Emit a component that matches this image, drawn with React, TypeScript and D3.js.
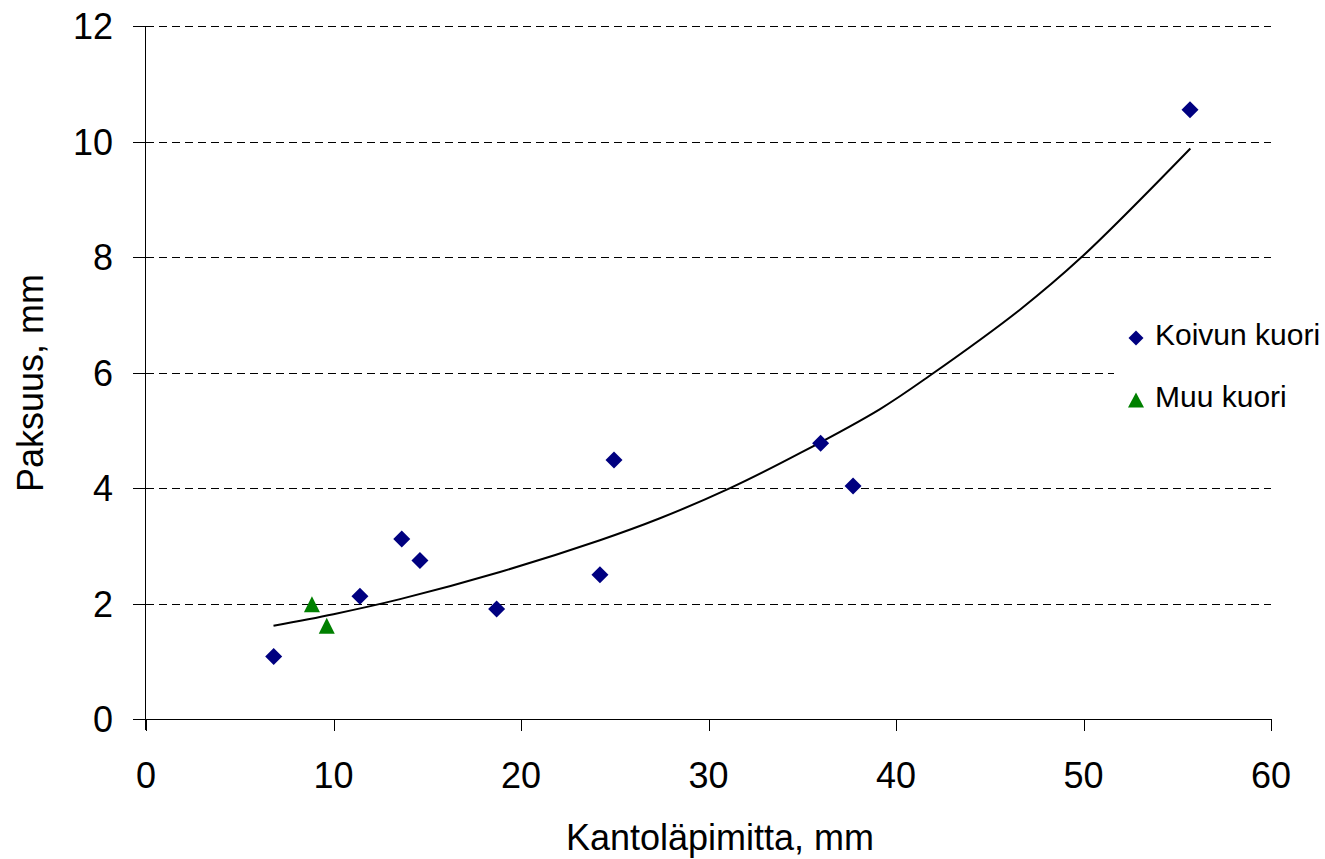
import React from "react";
import * as d3 from "d3";

const koivunX = [6.81, 11.41, 13.64, 14.61, 18.7, 24.21, 24.96, 35.98, 37.71, 55.68];
const koivunY = [1.085, 2.13, 3.12, 2.75, 1.91, 2.5, 4.49, 4.78, 4.04, 10.55];
const muuX = [8.85, 9.64];
const muuY = [1.99, 1.62];
const trendX = [6.8, 10, 13.55, 18.88, 24.21, 27.41, 31.15, 34.9, 39.15, 41.81, 46.61, 49.9, 55.7];
const trendY = [1.62, 1.82, 2.08, 2.55, 3.1, 3.48, 4.0, 4.61, 5.37, 5.95, 7.09, 8.0, 9.88];
const xTicks = [0, 10, 20, 30, 40, 50, 60];
const yTicks = [0, 2, 4, 6, 8, 10, 12];
const legendLabels = ["Koivun kuori", "Muu kuori"];

const W = 1325;
const H = 859;
const FONT = "Liberation Sans, Arial, sans-serif";

export default function App() {
  const x = d3.scaleLinear().domain([0, 60]).range([146, 1271]);
  const y = d3.scaleLinear().domain([0, 12]).range([719.3, 26]);
  const trendPts: [number, number][] = trendX.map((v, i) => [x(v), y(trendY[i])]);
  const line = d3.line().curve(d3.curveCatmullRom.alpha(0.5))(trendPts) || "";
  const diamond = (cx: number, cy: number, r = 8.5) =>
    `M${cx},${cy - r}L${cx + r},${cy}L${cx},${cy + r}L${cx - r},${cy}Z`;
  const tri = (cx: number, cy: number, w = 16, h = 16) =>
    `M${cx},${cy - h / 2}L${cx + w / 2},${cy + h / 2}L${cx - w / 2},${cy + h / 2}Z`;

  return (
    <svg
      width={W}
      height={H}
      style={{ position: "absolute", left: 0, top: 0, background: "#fff" }}
      fontFamily={FONT}
    >
      <rect x={0} y={0} width={W} height={H} fill="#fff" />
      {yTicks.filter((t) => t > 0).map((t) => (
        <line
          key={"g" + t}
          x1={146}
          x2={1271}
          y1={Math.round(y(t)) + 0.5}
          y2={Math.round(y(t)) + 0.5}
          stroke="#000"
          strokeWidth={1}
          strokeDasharray="8,5"
        />
      ))}
      <rect x={1114} y={300} width={211} height={140} fill="#fff" />
      <line x1={145.5} x2={145.5} y1={26} y2={730} stroke="#000" strokeWidth={1} />
      <line x1={133} x2={1271} y1={719.5} y2={719.5} stroke="#000" strokeWidth={1} />
      {yTicks.map((t) => (
        <g key={"yt" + t}>
          <line x1={133} x2={146} y1={Math.round(y(t)) + 0.5} y2={Math.round(y(t)) + 0.5} stroke="#000" />
          <text x={113} y={y(t)} dy="0.36em" textAnchor="end" fontSize={36} fill="#000">
            {t}
          </text>
        </g>
      ))}
      {xTicks.map((t) => (
        <g key={"xt" + t}>
          <line x1={Math.round(x(t)) + 0.5} x2={Math.round(x(t)) + 0.5} y1={719} y2={731} stroke="#000" />
          <text x={x(t)} y={788} textAnchor="middle" fontSize={36} fill="#000">
            {t}
          </text>
        </g>
      ))}
      <text x={720} y={850} textAnchor="middle" fontSize={36} fill="#000">
        Kantoläpimitta, mm
      </text>
      <text transform={`translate(43,383) rotate(-90)`} textAnchor="middle" fontSize={36} fill="#000">
        Paksuus, mm
      </text>
      <path d={line} fill="none" stroke="#000" strokeWidth={2} />
      {koivunX.map((v, i) => (
        <path key={"k" + i} d={diamond(x(v), y(koivunY[i]))} fill="#000080" />
      ))}
      {muuX.map((v, i) => (
        <path key={"m" + i} d={tri(x(v), y(muuY[i]))} fill="#008000" />
      ))}
      <path d={diamond(1136, 338, 7.5)} fill="#000080" />
      <text x={1155} y={345} fontSize={30} fill="#000">
        {legendLabels[0]}
      </text>
      <path d={tri(1136, 400, 16, 15)} fill="#008000" />
      <text x={1155} y={407} fontSize={30} fill="#000">
        {legendLabels[1]}
      </text>
    </svg>
  );
}
